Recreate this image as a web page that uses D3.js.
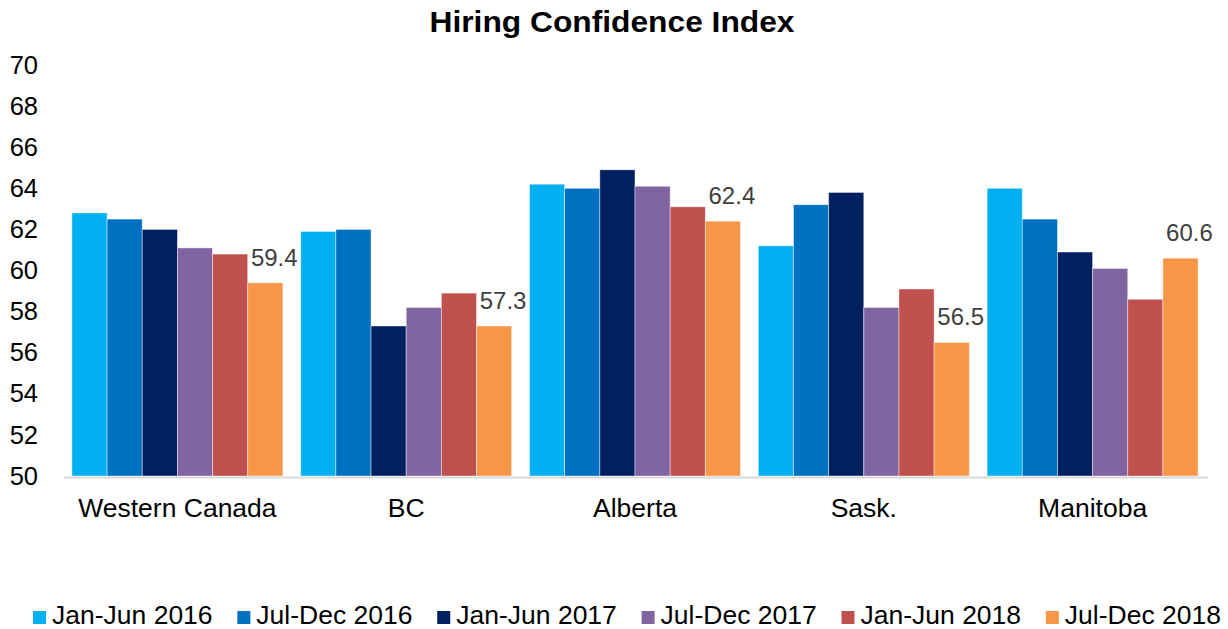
<!DOCTYPE html>
<html>
<head>
<meta charset="utf-8">
<script src="https://cdn.jsdelivr.net/npm/d3@7/dist/d3.min.js"></script>
<style>
  html, body { margin: 0; padding: 0; background: #ffffff; }
  svg { display: block; font-family: "Liberation Sans", Arial, sans-serif; }
</style>
</head>
<body>
<svg id="chart" width="1228" height="629"></svg>
<script>
// Regions along the x axis
const categories = ["Western Canada", "BC", "Alberta", "Sask.", "Manitoba"];

// Survey periods (one bar per period in each region)
const periods = ["Jan-Jun 2016", "Jul-Dec 2016", "Jan-Jun 2017", "Jul-Dec 2017", "Jan-Jun 2018", "Jul-Dec 2018"];
const periodColors = ["#00B0F0", "#0070C0", "#002060", "#8064A2", "#C0504D", "#F79646"];

// Index values per period, in region order
const janJun2016 = [62.8, 61.9, 64.2, 61.2, 64.0];
const julDec2016 = [62.5, 62.0, 64.0, 63.2, 62.5];
const janJun2017 = [62.0, 57.3, 64.9, 63.8, 60.9];
const julDec2017 = [61.1, 58.2, 64.1, 58.2, 60.1];
const janJun2018 = [60.8, 58.9, 63.1, 59.1, 58.6];
const julDec2018 = [59.4, 57.3, 62.4, 56.5, 60.6];

const seriesValues = [janJun2016, julDec2016, janJun2017, julDec2017, janJun2018, julDec2018];

// Y axis ticks
const yTicks = [50, 52, 54, 56, 58, 60, 62, 64, 66, 68, 70];

const svg = d3.select("#chart");

const x0 = d3.scaleBand()
  .domain(categories)
  .range([63, 1207])
  .paddingInner(0.078)
  .paddingOuter(0.039);

const x1 = d3.scaleBand()
  .domain(periods)
  .range([0, x0.bandwidth()])
  .padding(0);

const y = d3.scaleLinear()
  .domain([50, 70])
  .range([476, 65]);

const color = d3.scaleOrdinal().domain(periods).range(periodColors);

// Title
svg.append("text")
  .attr("x", 612)
  .attr("y", 32)
  .attr("text-anchor", "middle")
  .attr("font-size", 29)
  .attr("font-weight", "bold")
  .attr("fill", "#000")
  .attr("textLength", 365)
  .attr("lengthAdjust", "spacingAndGlyphs")
  .text("Hiring Confidence Index");

// Y axis (labels only)
const yAxis = svg.append("g")
  .attr("transform", "translate(38,0)")
  .call(d3.axisLeft(y).tickValues(yTicks).tickSize(0).tickPadding(0).tickFormat(d3.format("d")));
yAxis.select(".domain").remove();
yAxis.selectAll("text")
  .attr("font-size", 25.5)
  .attr("font-family", "'Liberation Sans', Arial, sans-serif")
  .attr("fill", "#000");

// Bars
const rows = categories.map((c, i) => ({
  category: c,
  values: periods.map((p, k) => ({ period: p, value: seriesValues[k][i], k }))
}));

const groups = svg.append("g").selectAll("g")
  .data(rows)
  .join("g")
  .attr("transform", d => `translate(${x0(d.category)},0)`);

groups.selectAll("rect")
  .data(d => d.values)
  .join("rect")
  .attr("x", d => x1(d.period))
  .attr("y", d => y(d.value))
  .attr("width", x1.bandwidth())
  .attr("height", d => y(50) - y(d.value))
  .attr("fill", d => color(d.period))
  .attr("stroke", "rgba(255,255,255,0.55)")
  .attr("stroke-width", 0.8);

// Value labels on the latest period
groups.append("text")
  .datum(d => d.values[d.values.length - 1])
  .attr("x", d => x1(d.period) + x1.bandwidth() / 2 + 9)
  .attr("y", d => y(d.value) - 17)
  .attr("text-anchor", "middle")
  .attr("font-size", 24)
  .attr("fill", "#404040")
  .text(d => d3.format(".1f")(d.value));

// X axis
const xAxis = svg.append("g")
  .attr("transform", "translate(0,477)")
  .call(d3.axisBottom(x0).tickSize(0).tickSizeOuter(0).tickPadding(21));
xAxis.select(".domain")
  .attr("stroke", "#D9D9D9")
  .attr("stroke-width", 2);
xAxis.selectAll("text")
  .attr("font-size", 26.5)
  .attr("font-family", "'Liberation Sans', Arial, sans-serif")
  .attr("fill", "#000");

// Legend
const legend = svg.append("g");
const items = legend.selectAll("g")
  .data(periods)
  .join("g");
items.append("rect")
  .attr("width", 13)
  .attr("height", 13)
  .attr("y", 611)
  .attr("fill", d => color(d));
const legendText = items.append("text")
  .attr("x", 19)
  .attr("y", 623.5)
  .attr("font-size", 25)
  .attr("fill", "#000")
  .text(d => d);

// Widen legend labels slightly and spread the items across the width
legendText.each(function () {
  const w = this.getComputedTextLength();
  d3.select(this).attr("textLength", w * 1.06).attr("lengthAdjust", "spacingAndGlyphs");
});

const legendLeft = 33, legendRight = 1221;
const widths = [];
legendText.each(function () {
  widths.push(19 + +d3.select(this).attr("textLength"));
});
const gap = (legendRight - legendLeft - d3.sum(widths)) / (widths.length - 1);
let cursor = legendLeft;
items.attr("transform", (d, i) => {
  const t = `translate(${cursor},0)`;
  cursor += widths[i] + gap;
  return t;
});
</script>
</body>
</html>
